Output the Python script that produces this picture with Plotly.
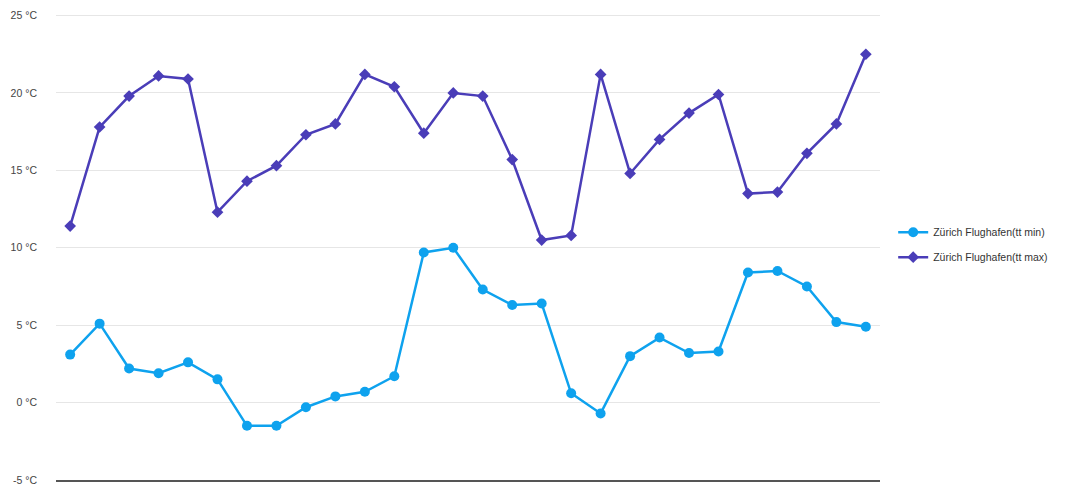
import plotly.graph_objects as go

days = [str(i) for i in range(1, 29)]
tt_min = [3.1, 5.1, 2.2, 1.9, 2.6, 1.5, -1.5, -1.5, -0.3, 0.4, 0.7, 1.7, 9.7, 10.0,
          7.3, 6.3, 6.4, 0.6, -0.7, 3.0, 4.2, 3.2, 3.3, 8.4, 8.5, 7.5, 5.2, 4.9]
tt_max = [11.4, 17.8, 19.8, 21.1, 20.9, 12.3, 14.3, 15.3, 17.3, 18.0, 21.2, 20.4, 17.4, 20.0,
          19.8, 15.7, 10.5, 10.8, 21.2, 14.8, 17.0, 18.7, 19.9, 13.5, 13.6, 16.1, 18.0, 22.5]
y_ticks = [-5, 0, 5, 10, 15, 20, 25]
y_labels = [f"{v} °C" for v in y_ticks]

fig = go.Figure()
fig.add_trace(go.Scatter(
    x=days, y=tt_min, mode="lines+markers", name="Zürich Flughafen(tt min)",
    line=dict(color="#0EA2EE", width=2.5),
    marker=dict(symbol="circle", size=10, color="#0EA2EE"),
    legendgroup="a",
))
fig.add_trace(go.Scatter(
    x=days, y=tt_max, mode="lines+markers", name="Zürich Flughafen(tt max)",
    line=dict(color="#4A3DB8", width=2.5),
    marker=dict(symbol="diamond", size=9, color="#4A3DB8"),
    legendgroup="b",
))

fig.update_layout(
    width=1073, height=482,
    margin=dict(l=48, r=201, t=6, b=10, autoexpand=False),
    paper_bgcolor="white", plot_bgcolor="white",
    font=dict(family="Liberation Sans, Arial, sans-serif", size=10.5, color="#444"),
    showlegend=True,
    legend=dict(x=1.016, xanchor="left", y=0.505, yanchor="middle",
                font=dict(size=10.5, color="#333"), tracegroupgap=6,
                bgcolor="rgba(0,0,0,0)"),
    xaxis=dict(type="category", range=[-0.48, 27.48], showticklabels=False,
               showgrid=False, zeroline=False, showline=True,
               linecolor="#555", linewidth=1.5, ticks="", automargin=False),
    yaxis=dict(range=[-5, 25.1], tickvals=y_ticks, ticktext=y_labels,
               showgrid=True, gridcolor="#e6e6e6", gridwidth=1,
               zeroline=False, showline=False, ticks="", automargin=False,
               ticklabeloverflow="allow",
               ticklabelstandoff=18, tickfont=dict(size=10.5, color="#444")),
)

fig.add_shape(type="line", xref="paper", yref="paper",
              x0=1.2505, x1=1.2505, y0=-0.03, y1=1.01,
              line=dict(color="#f0f0f0", width=1))

fig.write_html("out.html")
